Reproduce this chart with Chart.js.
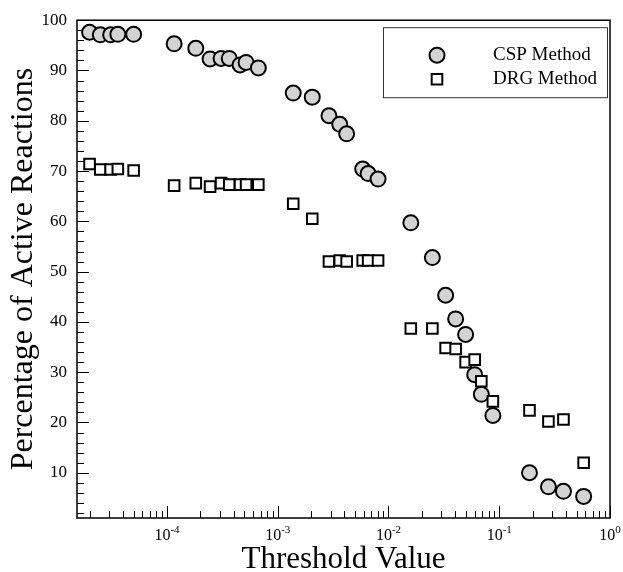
<!DOCTYPE html>
<html>
<head>
<meta charset="utf-8">
<script src="https://cdn.jsdelivr.net/npm/chart.js@4.4.0/dist/chart.umd.min.js"></script>
<style>
html,body{margin:0;padding:0;background:#fff;}
canvas{display:block;}
</style>
</head>
<body>
<canvas id="c" width="623" height="572"></canvas>
<script>
// ---- data ----
const thresholds = [2.0e-5, 2.5e-5, 3.1e-5, 3.6e-5, 5.0e-5,
  1.16e-4, 1.82e-4, 2.45e-4, 3.08e-4, 3.65e-4, 4.57e-4, 5.18e-4, 6.68e-4,
  1.38e-3, 2.05e-3, 2.9e-3, 3.63e-3, 4.19e-3, 5.85e-3, 6.55e-3, 8.05e-3,
  1.59e-2, 2.49e-2, 3.28e-2, 4.04e-2, 4.97e-2, 6.0e-2, 6.89e-2, 8.76e-2,
  0.1875, 0.278, 0.38, 0.578];
const cspValues = [97.6, 97.1, 97.1, 97.2, 97.2,
  95.3, 94.4, 92.3, 92.4, 92.4, 91.1, 91.6, 90.5,
  85.5, 84.7, 81.0, 79.3, 77.4, 70.4, 69.5, 68.4,
  59.7, 52.8, 45.3, 40.6, 37.5, 29.5, 25.6, 21.4,
  10.0, 7.2, 6.3, 5.3];
const drgValues = [71.4, 70.3, 70.3, 70.4, 70.1,
  67.1, 67.6, 66.9, 67.6, 67.3, 67.3, 67.3, 67.3,
  63.5, 60.5, 52.0, 52.2, 52.0, 52.2, 52.2, 52.2,
  38.7, 38.7, 34.8, 34.6, 32.0, 32.5, 28.2, 24.2,
  22.4, 20.2, 20.6, 12.0];
const seriesNames = ['CSP Method', 'DRG Method'];
const yMajorTicks = [10, 20, 30, 40, 50, 60, 70, 80, 90, 100];
const yMinorTicks = [2, 4, 6, 8, 12, 14, 16, 18, 22, 24, 26, 28, 32, 34, 36, 38, 42, 44, 46, 48,
  52, 54, 56, 58, 62, 64, 66, 68, 72, 74, 76, 78, 82, 84, 86, 88, 92, 94, 96, 98];
const xMajorExponents = [-4, -3, -2, -1, 0];
const xMantissas = [1, 2, 3, 4, 5, 6, 7, 8, 9];
const xTitle = 'Threshold Value';
const yTitle = 'Percentage of Active Reactions';

// ---- styling ----
const FONT = "'Liberation Serif', 'Times New Roman', Times, serif";
const X_MIN = 1.54e-5, X_MAX = 1, Y_MIN = 1, Y_MAX = 100;

const xTickValues = [];
for (let e = -5; e <= 0; e++) {
  for (const m of xMantissas) {
    const v = m * Math.pow(10, e);
    if (v >= X_MIN && v <= X_MAX * 1.0000001) xTickValues.push(v);
  }
}
const yTickValues = yMinorTicks.concat(yMajorTicks).sort((a, b) => a - b);
const isMajorX = v => Math.abs(Math.log10(v) - Math.round(Math.log10(v))) < 1e-9;

const decor = {
  id: 'decor',
  beforeDatasetsDraw(chart) {
    const { ctx, chartArea: a, scales: { x, y } } = chart;
    ctx.save();
    ctx.strokeStyle = '#000';
    ctx.lineWidth = 1;
    y.ticks.forEach(t => {
      const py = Math.round(y.getPixelForValue(t.value)) + 0.5;
      const len = yMajorTicks.includes(t.value) ? 12 : 7;
      ctx.beginPath(); ctx.moveTo(a.left, py); ctx.lineTo(a.left + len, py); ctx.stroke();
    });
    x.ticks.forEach(t => {
      const px = Math.round(x.getPixelForValue(t.value)) + 0.5;
      const len = isMajorX(t.value) ? 12 : 7;
      ctx.beginPath(); ctx.moveTo(px, a.bottom); ctx.lineTo(px, a.bottom - len); ctx.stroke();
    });
    ctx.lineWidth = 1.5;
    ctx.strokeRect(a.left, a.top, a.right - a.left, a.bottom - a.top);
    ctx.restore();
  },
  afterDraw(chart) {
    const { ctx, chartArea: a, scales: { x } } = chart;
    ctx.save();
    ctx.fillStyle = '#000';
    ctx.textBaseline = 'middle';
    ctx.textAlign = 'left';
    // x tick labels 10^n
    xMajorExponents.forEach(e => {
      const px = x.getPixelForValue(Math.pow(10, e));
      ctx.font = '16px ' + FONT;
      const wb = ctx.measureText('10').width;
      ctx.font = '11px ' + FONT;
      const es = String(e);
      const we = ctx.measureText(es).width;
      const start = px - (wb + we) / 2;
      ctx.font = '16px ' + FONT;
      ctx.fillText('10', start, a.bottom + 18);
      ctx.font = '11px ' + FONT;
      ctx.fillText(es, start + wb, a.bottom + 12);
    });
    // legend
    const bx = a.right - 227, by = a.top + 7, bw = 224, bh = 70;
    ctx.strokeStyle = '#333';
    ctx.lineWidth = 1;
    ctx.strokeRect(bx + 0.5, by + 0.5, bw, bh);
    chart.data.datasets.forEach((ds, i) => {
      const mx = bx + 54, my = by + 28 + i * 24;
      ctx.beginPath();
      if (ds.pointStyle === 'circle') {
        ctx.arc(mx, my, ds.pointRadius, 0, Math.PI * 2);
      } else {
        const s = ds.pointRadius * Math.SQRT1_2;
        ctx.rect(mx - s, my - s, 2 * s, 2 * s);
      }
      ctx.fillStyle = ds.backgroundColor;
      ctx.fill();
      ctx.lineWidth = ds.borderWidth;
      ctx.strokeStyle = ds.borderColor;
      ctx.stroke();
      ctx.fillStyle = '#000';
      ctx.font = '19px ' + FONT;
      ctx.fillText(ds.label, bx + 110, my);
    });
    ctx.restore();
  }
};

new Chart(document.getElementById('c'), {
  type: 'scatter',
  data: {
    datasets: [
      {
        label: seriesNames[0],
        data: thresholds.map((t, i) => ({ x: t, y: cspValues[i] })),
        pointStyle: 'circle', pointRadius: 7.5, borderWidth: 2,
        backgroundColor: '#d3d3d3', borderColor: '#000', order: 2
      },
      {
        label: seriesNames[1],
        data: thresholds.map((t, i) => ({ x: t, y: drgValues[i] })),
        pointStyle: 'rect', pointRadius: 7.5, borderWidth: 2,
        backgroundColor: '#fff', borderColor: '#000', order: 1
      }
    ]
  },
  options: {
    responsive: false,
    animation: false,
    devicePixelRatio: 1,
    layout: { padding: { top: 20, right: 13, left: 0, bottom: 0 } },
    plugins: { legend: { display: false }, tooltip: { enabled: false } },
    scales: {
      x: {
        type: 'logarithmic', min: X_MIN, max: X_MAX,
        afterBuildTicks: s => { s.ticks = xTickValues.map(v => ({ value: v })); },
        afterFit: s => { s.height = 54; },
        grid: { display: false, drawTicks: false },
        border: { display: false },
        ticks: { display: false },
        title: { display: true, text: xTitle, color: '#000',
          font: { family: FONT, size: 31, lineHeight: 0.8 }, padding: { top: 0, bottom: 0 } }
      },
      y: {
        type: 'linear', min: Y_MIN, max: Y_MAX,
        afterBuildTicks: s => { s.ticks = yTickValues.map(v => ({ value: v })); },
        afterFit: s => { s.width = 77; },
        grid: { display: false, drawTicks: false },
        border: { display: false },
        ticks: { autoSkip: false, padding: 10, color: '#000', font: { family: FONT, size: 17 },
          callback: v => yMajorTicks.includes(v) ? String(v) : '' },
        title: { display: true, text: yTitle, color: '#000',
          font: { family: FONT, size: 32, lineHeight: 0.8 }, padding: { top: 11, bottom: 0 } }
      }
    }
  },
  plugins: [decor]
});
</script>
</body>
</html>
